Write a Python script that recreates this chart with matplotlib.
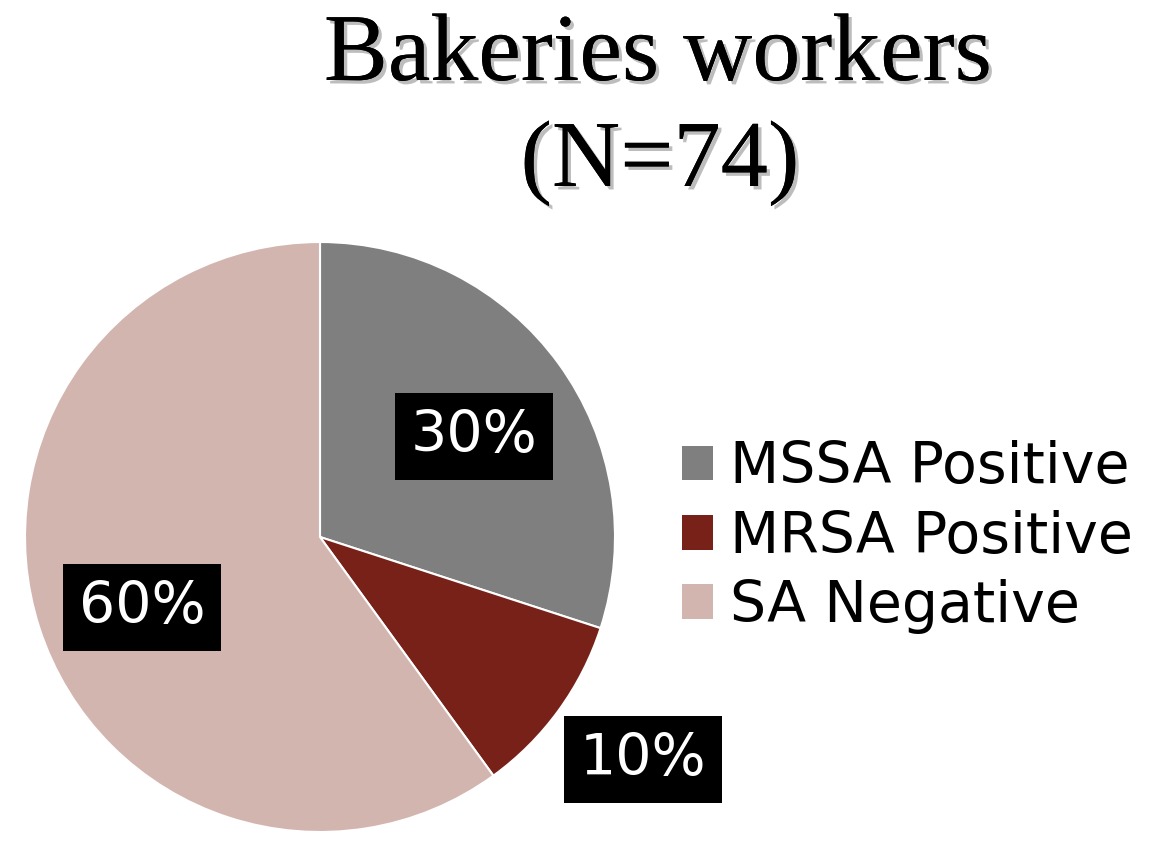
import numpy as np
import matplotlib
matplotlib.use("Agg")
import matplotlib.pyplot as plt
import matplotlib.patheffects as pe

categories = ["MSSA Positive", "MRSA Positive", "SA Negative"]
values = [30, 10, 60]
pct_labels = ["30%", "10%", "60%"]
colors = ["#7f7f7f", "#772118", "#d3b5b0"]
title_line1 = "Bakeries workers"
title_line2 = "(N=74)"

W, H = 1165, 846
fig = plt.figure(figsize=(W / 100, H / 100), dpi=100)
fig.patch.set_facecolor("white")

cx, cy, R = 320, 537, 295
ax = fig.add_axes([(cx - R) / W, (H - cy - R) / H, 2 * R / W, 2 * R / H])
wedges, _ = ax.pie(values, colors=colors, startangle=90, counterclock=False,
                   radius=1.0, wedgeprops=dict(edgecolor="white", linewidth=1.5))
ax.set_xlim(-1, 1)
ax.set_ylim(-1, 1)
ax.set_aspect("equal")
ax.axis("off")

label_font = "DejaVu Sans"
# label placement: (radial distance, angular shift in degrees) per slice
dists = [0.624, 1.33, 0.65]
shifts = [-2.8, 1.4, 3.7]
for w, lab, d, s in zip(wedges, pct_labels, dists, shifts):
    ang = np.deg2rad((w.theta1 + w.theta2) / 2 + s)
    x, y = d * np.cos(ang), d * np.sin(ang)
    ax.text(x, y, lab, ha="center", va="center", color="white",
            fontsize=41, family=label_font, clip_on=False,
            bbox=dict(boxstyle="square,pad=0.28", facecolor="black", edgecolor="none"))

shadow = [pe.withSimplePatchShadow(offset=(2.5, -2.5), shadow_rgbFace="#888888", alpha=0.55), pe.Normal()]
fig.text(658 / W, 1 - 80 / H, title_line1, ha="center", va="baseline",
         fontsize=69, family="Liberation Serif", path_effects=shadow)
fig.text(660 / W, 1 - 186 / H, title_line2, ha="center", va="baseline",
         fontsize=68, family="Liberation Serif", path_effects=shadow)

leg = ax.legend(wedges, categories, loc="center left",
                bbox_to_anchor=(682 / W, 1 - 537 / H), bbox_transform=fig.transFigure,
                frameon=False, prop=dict(family=label_font, size=41),
                handlelength=0.55, handleheight=0.55, handletextpad=0.3,
                labelspacing=0.25, borderpad=0, borderaxespad=0)
for h in leg.legend_handles:
    h.set_edgecolor("none")

fig.savefig("out.png", dpi=100, facecolor="white")
